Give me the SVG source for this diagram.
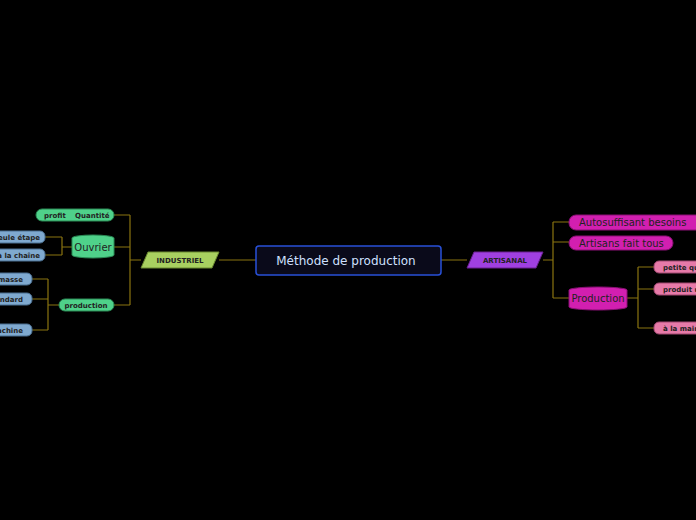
<svg xmlns="http://www.w3.org/2000/svg" width="696" height="520" viewBox="0 0 696 520">
<style>
.c{fill:none;stroke:#8a7410;stroke-width:1.2}
.g{fill:#4fd18a;stroke:#2a8a55;stroke-width:1}
.b{fill:#7fa9cf;stroke:#4a6f90;stroke-width:1}
.m{fill:#d21fb0;stroke:#8a1075;stroke-width:1}
.p{fill:#e67aa8;stroke:#a04870;stroke-width:1}
.s{font-family:"DejaVu Sans",sans-serif;font-size:7px;font-weight:bold;fill:#222}
.l{font-family:"DejaVu Sans",sans-serif;font-size:10px;fill:#222}
</style>
<rect width="696" height="520" fill="#000"/>
<g id="connectors">
<path class="c" d="M256,260H219M141,260H130M130,215V305M114,215H130M114,247H130M114,305H130"/>
<path class="c" d="M72,247H62M62,237V255M45,237H62M45,255H62"/>
<path class="c" d="M59,305H48M48,279V330M32,279H48M32,299H48M32,330H48"/>
<path class="c" d="M441,260H467M543,260H553M553,222V298M553,222H569M553,242H569M553,298H569"/>
<path class="c" d="M627,298H638M638,267V328M638,267H654M638,289H654M638,328H654"/>
</g>
<g id="center"><rect x="256" y="246" width="185" height="29" rx="3" fill="#0a0a1a" stroke="#2850d8" stroke-width="1.5"/><text x="346" y="265" text-anchor="middle" font-family="DejaVu Sans,sans-serif" font-size="12" fill="#cfe0ff">Méthode de production</text></g>
<g id="industriel"><polygon points="148,252 219,252 212,268 141,268" fill="#a8d060" stroke="#6a8a30"/><text x="180" y="263" text-anchor="middle" class="s">INDUSTRIEL</text></g>
<g id="artisanal"><polygon points="474,252 543,252 536,268 467,268" fill="#a040e0" stroke="#6a2090"/><text x="505" y="263" text-anchor="middle" class="s" fill="#333">ARTISANAL</text></g>
<g id="profit"><rect class="g" x="36" y="209" width="78" height="12" rx="6"/><text x="44" y="218" class="s">profit</text><text x="75" y="218" class="s">Quantité</text></g>
<g id="ouvrier"><path class="g" d="M72,238a21,3 0 0 1 42,0v17a21,3 0 0 1 -42,0z"/><text x="93" y="251" text-anchor="middle" class="l">Ouvrier</text></g>
<g id="production-l"><rect class="g" x="59" y="299" width="55" height="12" rx="6"/><text x="86" y="308" text-anchor="middle" class="s">production</text></g>
<g id="b1"><rect class="b" x="-40" y="231" width="85" height="12" rx="5"/><text x="40" y="240" text-anchor="end" class="s">Une seule étape</text></g>
<g id="b2"><rect class="b" x="-40" y="249" width="85" height="12" rx="5"/><text x="40" y="258" text-anchor="end" class="s">Travail à la chaîne</text></g>
<g id="b3"><rect class="b" x="-40" y="273" width="72" height="12" rx="5"/><text x="23" y="282" text-anchor="end" class="s">Production de masse</text></g>
<g id="b4"><rect class="b" x="-40" y="293" width="72" height="12" rx="5"/><text x="23" y="302" text-anchor="end" class="s">Produit standard</text></g>
<g id="b5"><rect class="b" x="-40" y="324" width="72" height="12" rx="5"/><text x="23" y="333" text-anchor="end" class="s">Fabriqué par machine</text></g>
<g id="auto"><rect class="m" x="569" y="215" width="140" height="15" rx="7"/><text x="579" y="226" class="l">Autosuffisant  besoins</text></g>
<g id="artisans"><rect class="m" x="569" y="236" width="104" height="14" rx="7"/><text x="579" y="247" class="l">Artisans  fait tous</text></g>
<g id="production-r"><path class="m" d="M569,290a29,3 0 0 1 58,0v17a29,3 0 0 1 -58,0z"/><text x="598" y="302" text-anchor="middle" class="l">Production</text></g>
<g id="p1"><rect class="p" x="654" y="261" width="70" height="12" rx="5"/><text x="663" y="270" class="s">petite quantité</text></g>
<g id="p2"><rect class="p" x="654" y="283" width="70" height="12" rx="5"/><text x="663" y="292" class="s">produit unique</text></g>
<g id="p3"><rect class="p" x="654" y="322" width="70" height="12" rx="5"/><text x="663" y="331" class="s">à la main</text></g>
</svg>
